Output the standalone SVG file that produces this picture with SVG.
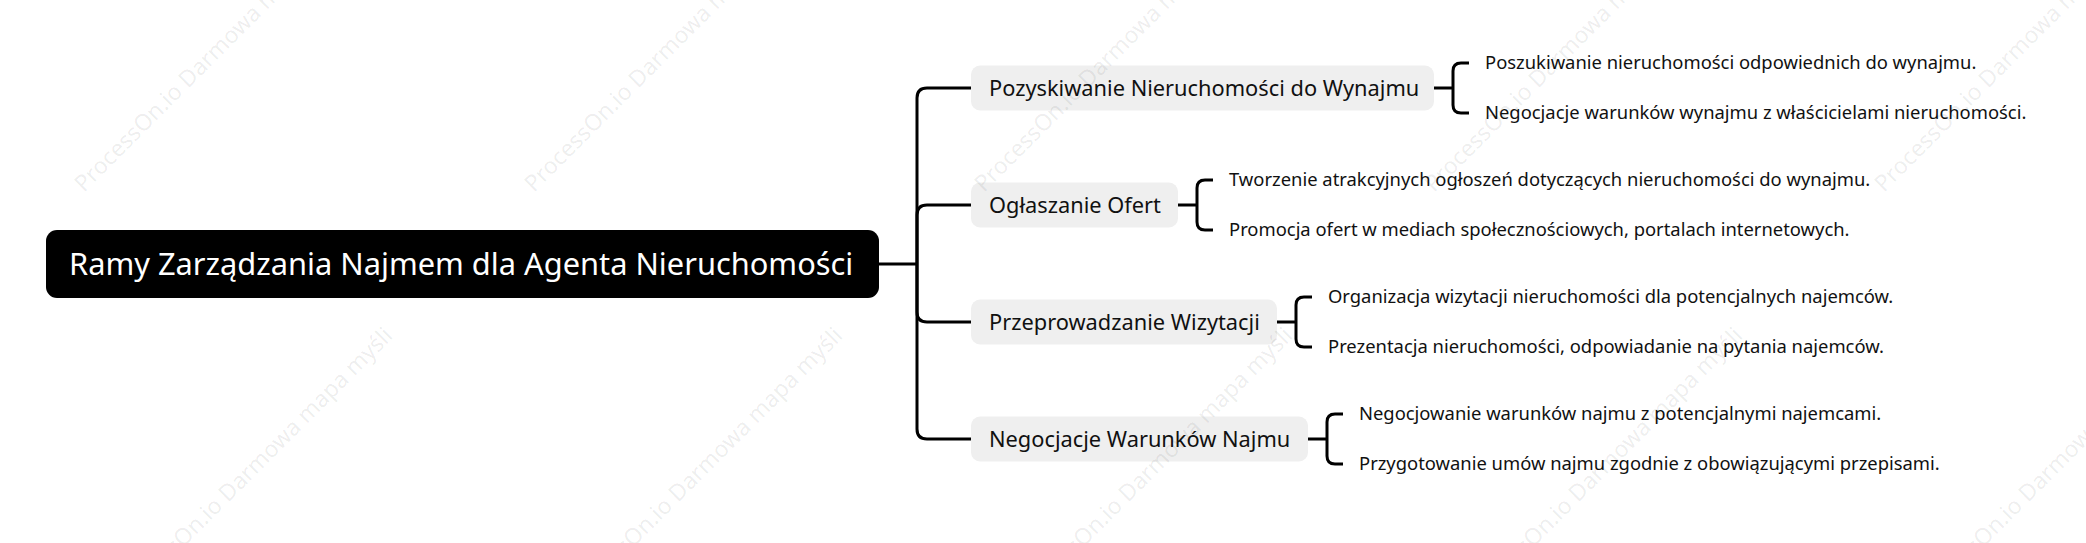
<svg xmlns="http://www.w3.org/2000/svg" width="2086" height="543" viewBox="0 0 2086 543">
<style>
.root{fill:#000}
.rootText{fill:#fff;font-family:"Noto Sans","Open Sans",sans-serif;font-size:30.8px}
.box{fill:#efefef}
.boxText{fill:#111;font-family:"Noto Sans","Open Sans",sans-serif;font-size:21.8px}
.leaf{fill:#111;font-family:"Noto Sans","Open Sans",sans-serif;font-size:18.4px}
.conn{fill:none;stroke:#000;stroke-width:3;stroke-linecap:butt;stroke-linejoin:round}
.wm{fill:#000;fill-opacity:0.08;font-family:"Noto Sans","Open Sans",sans-serif;font-size:23px}
</style>
<rect width="2086" height="543" fill="#fff"/>
<g id="connectors">
<path class="conn" d="M879 264 H917"/>
<path class="conn" d="M917 264 V98 Q917 88 927 88 H971"/>
<path class="conn" d="M917 264 V215 Q917 205 927 205 H971"/>
<path class="conn" d="M917 264 V312 Q917 322 927 322 H971"/>
<path class="conn" d="M917 264 V429 Q917 439 927 439 H971"/>
<path class="conn" d="M1434 88 H1453"/>
<path class="conn" d="M1469 63 H1461 Q1453 63 1453 71 V105 Q1453 113 1461 113 H1469"/>
<path class="conn" d="M1178 205 H1197"/>
<path class="conn" d="M1213 180 H1205 Q1197 180 1197 188 V222 Q1197 230 1205 230 H1213"/>
<path class="conn" d="M1277 322 H1296"/>
<path class="conn" d="M1312 297 H1304 Q1296 297 1296 305 V339 Q1296 347 1304 347 H1312"/>
<path class="conn" d="M1308 439 H1327"/>
<path class="conn" d="M1343 414 H1335 Q1327 414 1327 422 V456 Q1327 464 1335 464 H1343"/>
</g>
<g id="root">
<rect class="root" x="46" y="230" width="833" height="68" rx="11"/>
<text class="rootText" x="69" y="275">Ramy Zarządzania Najmem dla Agenta Nieruchomości</text>
</g>
<g id="node1">
<rect class="box" x="971" y="65.5" width="463" height="45" rx="9"/>
<text class="boxText" x="989" y="96">Pozyskiwanie Nieruchomości do Wynajmu</text>
</g>
<g id="node1a"><text class="leaf" x="1485" y="69">Poszukiwanie nieruchomości odpowiednich do wynajmu.</text></g>
<g id="node1b"><text class="leaf" x="1485" y="119">Negocjacje warunków wynajmu z właścicielami nieruchomości.</text></g>
<g id="node2">
<rect class="box" x="971" y="182.5" width="207" height="45" rx="9"/>
<text class="boxText" x="989" y="213">Ogłaszanie Ofert</text>
</g>
<g id="node2a"><text class="leaf" x="1229" y="186">Tworzenie atrakcyjnych ogłoszeń dotyczących nieruchomości do wynajmu.</text></g>
<g id="node2b"><text class="leaf" x="1229" y="236">Promocja ofert w mediach społecznościowych, portalach internetowych.</text></g>
<g id="node3">
<rect class="box" x="971" y="299.5" width="306" height="45" rx="9"/>
<text class="boxText" x="989" y="330">Przeprowadzanie Wizytacji</text>
</g>
<g id="node3a"><text class="leaf" x="1328" y="303">Organizacja wizytacji nieruchomości dla potencjalnych najemców.</text></g>
<g id="node3b"><text class="leaf" x="1328" y="353">Prezentacja nieruchomości, odpowiadanie na pytania najemców.</text></g>
<g id="node4">
<rect class="box" x="971" y="416.5" width="337" height="45" rx="9"/>
<text class="boxText" x="989" y="447">Negocjacje Warunków Najmu</text>
</g>
<g id="node4a"><text class="leaf" x="1359" y="420">Negocjowanie warunków najmu z potencjalnymi najemcami.</text></g>
<g id="node4b"><text class="leaf" x="1359" y="470">Przygotowanie umów najmu zgodnie z obowiązującymi przepisami.</text></g>
<g id="watermarks">
<text class="wm" transform="translate(84,193) rotate(-45)">ProcessOn.io Darmowa mapa myśli</text>
<text class="wm" transform="translate(534,193) rotate(-45)">ProcessOn.io Darmowa mapa myśli</text>
<text class="wm" transform="translate(984,193) rotate(-45)">ProcessOn.io Darmowa mapa myśli</text>
<text class="wm" transform="translate(1434,193) rotate(-45)">ProcessOn.io Darmowa mapa myśli</text>
<text class="wm" transform="translate(1884,193) rotate(-45)">ProcessOn.io Darmowa mapa myśli</text>
<text class="wm" text-anchor="end" transform="translate(394,337) rotate(-45)">ProcessOn.io Darmowa mapa myśli</text>
<text class="wm" text-anchor="end" transform="translate(844,337) rotate(-45)">ProcessOn.io Darmowa mapa myśli</text>
<text class="wm" text-anchor="end" transform="translate(1294,337) rotate(-45)">ProcessOn.io Darmowa mapa myśli</text>
<text class="wm" text-anchor="end" transform="translate(1744,337) rotate(-45)">ProcessOn.io Darmowa mapa myśli</text>
<text class="wm" text-anchor="end" transform="translate(2194,337) rotate(-45)">ProcessOn.io Darmowa mapa myśli</text>
</g>
</svg>
